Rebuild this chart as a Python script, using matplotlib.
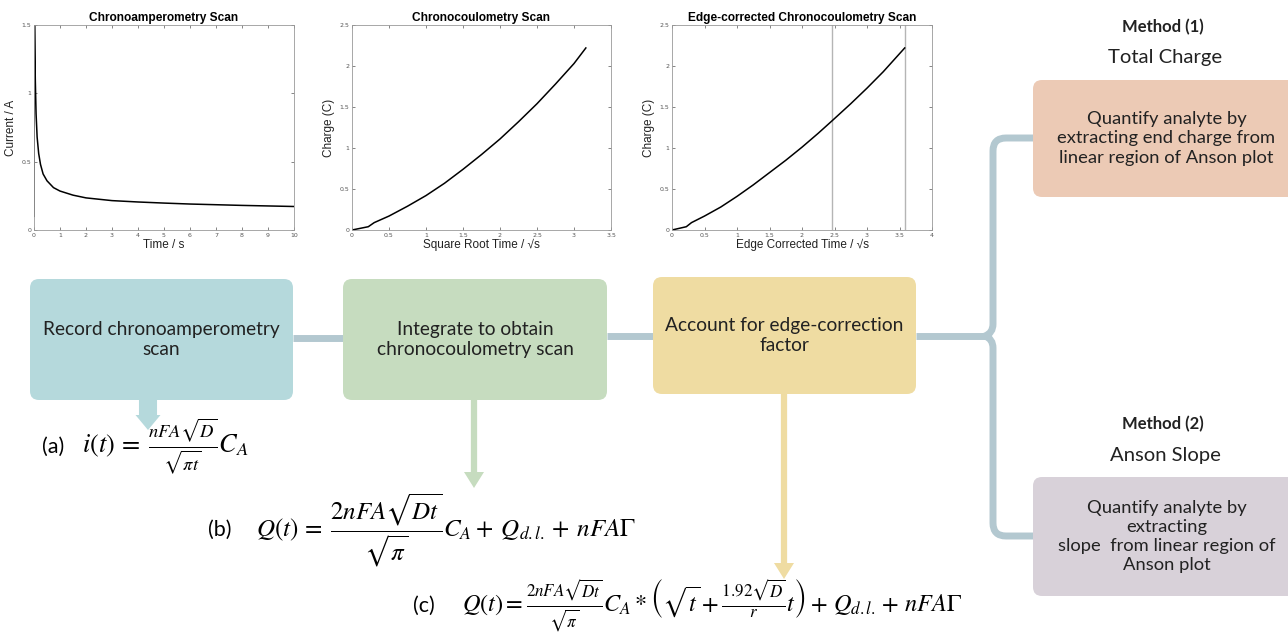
import matplotlib; matplotlib.use('Agg')
import matplotlib.pyplot as plt
from matplotlib.patches import FancyBboxPatch, PathPatch
from matplotlib.path import Path

W, H = 1288, 633
DPI = 100

# chronoamperometry scan (time / s, current / A)
ca_time = [0, 0.02, 0.05, 0.08, 0.12, 0.18, 0.25, 0.35, 0.5, 0.75, 1, 1.5,
           2, 3, 4, 5, 6, 7, 8, 9, 10]
ca_current = [0.1, 1.5, 1.1, 0.85, 0.68, 0.56, 0.48, 0.41, 0.36, 0.31, 0.285,
              0.255, 0.235, 0.215, 0.205, 0.197, 0.19, 0.185, 0.18, 0.176, 0.172]

# chronocoulometry scan (sqrt time, charge / C)
cc_sqrt_t = [0, 0.22, 0.3, 0.5, 0.75, 1, 1.25, 1.5, 1.75, 2, 2.25, 2.5, 2.75, 3, 3.16]
cc_charge = [0, 0.04, 0.09, 0.17, 0.29, 0.42, 0.57, 0.74, 0.92, 1.11, 1.32,
             1.54, 1.78, 2.03, 2.22]

# edge corrected chronocoulometry scan
ec_time = [0, 0.22, 0.3, 0.5, 0.75, 1, 1.25, 1.5, 1.75, 2, 2.25, 2.46, 2.75,
           3, 3.25, 3.58]
ec_charge = [0, 0.04, 0.09, 0.17, 0.28, 0.41, 0.55, 0.70, 0.85, 1.01, 1.18,
             1.33, 1.54, 1.73, 1.93, 2.22]
ec_markers = [2.46, 3.58]

LINE_C = '#b3c8d0'


def px_axes(fig, left, right, top, bottom):
    return fig.add_axes([left / W, 1 - bottom / H, (right - left) / W, (bottom - top) / H])


def style_plot(ax, title, xlabel, ylabel):
    ax.set_title(title, fontsize=8.6, fontweight='bold', family='Liberation Sans', pad=3)
    ax.set_xlabel(xlabel, fontsize=8.5, family='Liberation Sans', labelpad=1, color='#222222')
    ax.set_ylabel(ylabel, fontsize=8.5, family='Liberation Sans', labelpad=3, color='#222222')
    ax.tick_params(direction='in', length=2, width=0.5, labelsize=4.5, colors='#555555',
                   top=True, right=True, pad=2)
    for s in ax.spines.values():
        s.set_color('#999999')
        s.set_linewidth(0.6)


def rbox(ax, x0, y0, x1, y1, color, text, fs, ls=1.2):
    ax.add_patch(FancyBboxPatch((x0, y0), x1 - x0, y1 - y0,
                                boxstyle='round,pad=0,rounding_size=9',
                                fc=color, ec='none', zorder=2))
    ax.text((x0 + x1) / 2, (y0 + y1) / 2, text, ha='center', va='center',
            fontsize=fs, family='Lato', color='#222222', linespacing=ls, zorder=3)


def arrow(ax, x, y0, y1, color, shaft, head_w, head_h):
    ax.plot([x, x], [y0, y1 - head_h + 1], color=color, lw=shaft, solid_capstyle='butt', zorder=1)
    ax.fill([x - head_w / 2, x + head_w / 2, x], [y1 - head_h, y1 - head_h, y1],
            color=color, lw=0, zorder=1)


def draw():
    plt.rcParams['mathtext.fontset'] = 'stix'
    fig = plt.figure(figsize=(W / DPI, H / DPI), dpi=DPI)

    # --- three small scans ---
    ax1 = px_axes(fig, 34, 294, 25, 230)
    ax1.plot(ca_time, ca_current, color='black', lw=1.1)
    ax1.set_xlim(0, 10)
    ax1.set_ylim(0, 1.5)
    ax1.set_xticks(range(0, 11))
    ax1.set_yticks([0, 0.5, 1, 1.5])
    ax1.set_yticklabels(['0', '0.5', '1', '1.5'])
    style_plot(ax1, 'Chronoamperometry Scan', 'Time / s', 'Current / A')

    ax2 = px_axes(fig, 352, 611, 25, 230)
    ax2.plot(cc_sqrt_t, cc_charge, color='black', lw=1.1)
    ax2.set_xlim(0, 3.5)
    ax2.set_ylim(0, 2.5)
    ax2.set_xticks([0, 0.5, 1, 1.5, 2, 2.5, 3, 3.5])
    ax2.set_xticklabels(['0', '0.5', '1', '1.5', '2', '2.5', '3', '3.5'])
    ax2.set_yticks([0, 0.5, 1, 1.5, 2, 2.5])
    ax2.set_yticklabels(['0', '0.5', '1', '1.5', '2', '2.5'])
    style_plot(ax2, 'Chronocoulometry Scan', 'Square Root Time / \u221as', 'Charge (C)')

    ax3 = px_axes(fig, 672, 932, 25, 230)
    for xm in ec_markers:
        ax3.axvline(xm, color='#b5b5b5', lw=1.0)
    ax3.plot(ec_time, ec_charge, color='black', lw=1.1)
    ax3.set_xlim(0, 4)
    ax3.set_ylim(0, 2.5)
    ax3.set_xticks([0, 0.5, 1, 1.5, 2, 2.5, 3, 3.5, 4])
    ax3.set_xticklabels(['0', '0.5', '1', '1.5', '2', '2.5', '3', '3.5', '4'])
    ax3.set_yticks([0, 0.5, 1, 1.5, 2, 2.5])
    ax3.set_yticklabels(['0', '0.5', '1', '1.5', '2', '2.5'])
    style_plot(ax3, 'Edge-corrected Chronocoulometry Scan', 'Edge Corrected Time / \u221as', 'Charge (C)')

    # --- flow diagram on a pixel canvas ---
    ax = fig.add_axes([0, 0, 1, 1], zorder=-1)
    ax.set_xlim(0, W)
    ax.set_ylim(H, 0)
    ax.axis('off')

    # connectors
    ax.plot([293, 343], [338, 338], color=LINE_C, lw=5, solid_capstyle='butt', zorder=1)
    ax.plot([607, 653], [336, 336], color=LINE_C, lw=5, solid_capstyle='butt', zorder=1)
    verts = [(1035, 138), (1006, 138), (993, 138), (993, 151),
             (993, 324), (993, 333), (985, 336),
             (993, 339), (993, 348),
             (993, 523), (993, 536), (1006, 536), (1035, 536)]
    codes = [Path.MOVETO, Path.LINETO, Path.CURVE3, Path.CURVE3,
             Path.LINETO, Path.CURVE3, Path.CURVE3,
             Path.CURVE3, Path.CURVE3,
             Path.LINETO, Path.CURVE3, Path.CURVE3, Path.LINETO]
    ax.add_patch(PathPatch(Path(verts, codes), fill=False, ec=LINE_C, lw=5, zorder=1))
    ax.plot([916, 986], [336, 336], color=LINE_C, lw=5, solid_capstyle='butt', zorder=1)

    # arrows down to the equations
    arrow(ax, 148, 400, 430, '#b5d9dc', 13, 25, 15)
    arrow(ax, 474, 400, 488, '#c6dcbf', 4.5, 20, 16)
    arrow(ax, 784, 394, 579, '#efdca2', 4.5, 20, 16)

    # boxes
    rbox(ax, 30, 279, 293, 400, '#b5d9dc', 'Record chronoamperometry\nscan', 13.8)
    rbox(ax, 343, 279, 607, 400, '#c6dcbf', 'Integrate to obtain\nchronocoulometry scan', 13.8)
    rbox(ax, 653, 277, 916, 394, '#efdca2', 'Account for edge-correction\nfactor', 13.8)
    rbox(ax, 1033, 80, 1300, 197, '#eccab5',
         'Quantify analyte by\nextracting end charge from\nlinear region of Anson plot', 13.2, 1.3)
    rbox(ax, 1033, 477, 1300, 596, '#d8d1d9',
         'Quantify analyte by\nextracting\nslope  from linear region of\nAnson plot', 13.2, 1.25)

    # method headings
    ax.text(1163, 27, 'Method (1)', ha='center', va='center', fontsize=12,
            family='Lato', fontweight='bold', color='#222222')
    ax.text(1165, 57, 'Total Charge', ha='center', va='center', fontsize=14.6,
            family='Lato', color='#222222')
    ax.text(1163, 424, 'Method (2)', ha='center', va='center', fontsize=12,
            family='Lato', fontweight='bold', color='#222222')
    ax.text(1165, 455, 'Anson Slope', ha='center', va='center', fontsize=14.6,
            family='Lato', color='#222222')

    # equations
    ax.text(42, 447, '(a)', ha='left', va='center', fontsize=15.5, family='Lato')
    ax.text(82, 447, r'$i(t)\,=\;\frac{nFA\sqrt{D}}{\sqrt{\pi t}}C_A$',
            ha='left', va='center', fontsize=19)
    ax.text(208, 530, '(b)', ha='left', va='center', fontsize=15.5, family='Lato')
    ax.text(256, 530, r'$Q(t)\,=\;\dfrac{2nFA\sqrt{Dt}}{\sqrt{\pi}}C_A+\;Q_{d.l.}+\;nFA\Gamma$',
            ha='left', va='center', fontsize=18)
    ax.text(413, 606, '(c)', ha='left', va='center', fontsize=15.5, family='Lato')
    ax.text(462, 606, r'$Q(t)=\frac{2nFA\sqrt{Dt}}{\sqrt{\pi}}C_A*\left(\sqrt{t}+\frac{1.92\sqrt{D}}{r}t\right)+\,Q_{d.l.}+\,nFA\Gamma$',
            ha='left', va='center', fontsize=17.5)

    fig.savefig('out.png', dpi=DPI)


if __name__ == "__main__":
    draw()
